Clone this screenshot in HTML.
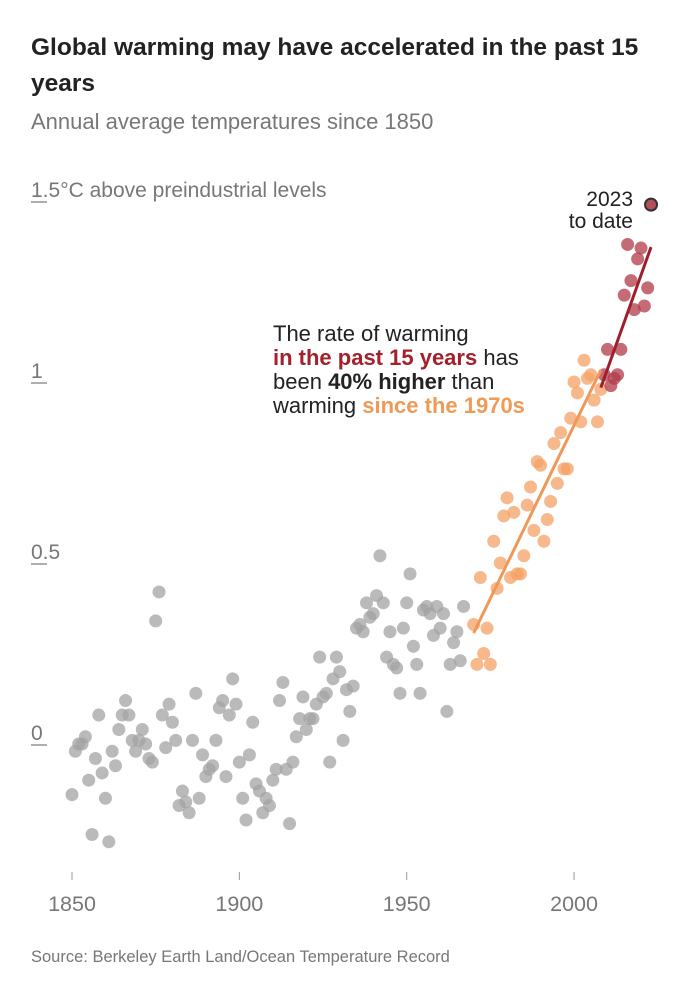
<!DOCTYPE html>
<html><head><meta charset="utf-8">
<style>
body{margin:0;background:#fff;font-family:"Liberation Sans",sans-serif;}
#wrap{position:relative;width:682px;height:1000px;overflow:hidden;}
h1{position:absolute;left:31px;top:30px;margin:0;font-size:24.5px;line-height:36px;color:#222;font-weight:bold;width:625px;}
.sub{position:absolute;left:31px;top:109px;font-size:22px;color:#777;}
.src{position:absolute;left:31px;top:948px;font-size:16.5px;color:#777;}
</style></head><body>
<div id="wrap">
<h1>Global warming may have accelerated in the past 15 years</h1>
<div class="sub">Annual average temperatures since 1850</div>
<svg id="chart" width="682" height="1000" style="position:absolute;left:0;top:0"></svg>
<div class="src">Source: Berkeley Earth Land/Ocean Temperature Record</div>
</div>
<script>
const startYear = 1850;
const grayValues = [-0.14,-0.02,0.00,0.00,0.02,-0.10,-0.25,-0.04,0.08,-0.08,-0.15,-0.27,-0.02,-0.06,0.04,0.08,0.12,0.08,0.01,-0.02,0.01,0.04,0.00,-0.04,-0.05,0.34,0.42,0.08,-0.01,0.11,0.06,0.01,-0.17,-0.13,-0.16,-0.19,0.01,0.14,-0.15,-0.03,-0.09,-0.07,-0.06,0.01,0.10,0.12,-0.09,0.08,0.18,0.11,-0.05,-0.15,-0.21,-0.03,
0.06,-0.11,-0.13,-0.19,-0.15,-0.17,-0.10,-0.07,0.12,0.17,-0.07,-0.22,-0.05,0.02,0.07,0.13,0.04,0.07,0.07,0.11,0.24,0.13,0.14,-0.05,0.18,0.24,0.20,0.01,0.15,0.09,0.16,0.32,0.33,0.31,0.39,0.35,0.36,0.41,0.52,0.39,0.24,0.31,0.22,0.21,0.14,0.32,0.39,0.47,0.27,0.22,0.14,0.37,0.38,0.36,0.30,0.38,0.32,0.36,0.09,0.22,0.28,0.31,0.23,0.38];
const orangeStart = 1970;
const orangeValues = [0.33,0.22,0.46,0.25,0.32,0.22,0.56,0.43,0.50,0.63,0.68,0.46,0.64,0.47,0.47,0.52,0.66,0.71,0.59,0.78,0.77,0.56,0.62,0.67,0.83,0.72,0.86,0.76,0.76,0.90,1.00,0.97,0.89,1.06,1.01,1.02,0.95,0.89,0.98];
const redStart = 2009;
const redValues = [1.02,1.09,0.99,1.01,1.02,1.09,1.24,1.38,1.28,1.20,1.34,1.37,1.21,1.26];
const latestYear = 2023;
const latestValue = 1.49;
const yTicks = [0,0.5,1,1.5];
const yTickLabels = ["0","0.5","1","1.5°C above preindustrial levels"];
const xTicks = [1850,1900,1950,2000];

const svg = document.getElementById('chart');
const NS = 'http://www.w3.org/2000/svg';
const xS = y => 72 + (y - 1850) * 3.347;
const yS = v => 744 - v * 362;
function mk(tag, attrs){const e=document.createElementNS(NS,tag);for(const k in attrs)e.setAttribute(k,attrs[k]);svg.appendChild(e);return e;}

yTicks.forEach((t,i)=>{
  const tx = mk('text',{x:31,y:yS(t)-4,'font-size':21,fill:'#777','font-family':'Liberation Sans, sans-serif'});
  tx.textContent = yTickLabels[i];
  
  
  const ln = mk('line',{x1:31,x2:47,y1:yS(t)+1,y2:yS(t)+1,stroke:'#777','stroke-width':1.2});
  
  
});
xTicks.forEach(t=>{
  const ln = mk('line',{x1:xS(t),x2:xS(t),y1:872,y2:880,stroke:'#999','stroke-width':1});
  
  
  const tx = mk('text',{x:xS(t),y:911,'font-size':21.5,fill:'#777','text-anchor':'middle','font-family':'Liberation Sans, sans-serif'});
  tx.textContent = t;
  
  
});
function dots(vals, start, color, name){
  vals.forEach((v,i)=>{
    const c = mk('circle',{cx:xS(start+i),cy:yS(v),r:6.5,fill:color,'fill-opacity':0.75});
    
    
  });
}
dots(grayValues, startYear, '#a3a3a3', 'point-historical');
dots(orangeValues, orangeStart, '#f4a264', 'point-since-1970');
dots(redValues, redStart, '#b23a48', 'point-past-15-years');
function trend(vals,start,color,name,x0,x1){
  const n=vals.length;let sx=0,sy=0,sxy=0,sxx=0;
  vals.forEach((v,i)=>{const x=start+i;sx+=x;sy+=v;sxy+=x*v;sxx+=x*x;});
  const b=(n*sxy-sx*sy)/(n*sxx-sx*sx),a=(sy-b*sx)/n;
  const ln = mk('line',{x1:xS(x0),y1:yS(a+b*x0),x2:xS(x1),y2:yS(a+b*x1),stroke:color,'stroke-width':3});
  
  
}
trend(orangeValues, orangeStart, '#f0985a', 'trend-line-since-1970', orangeStart, orangeStart+orangeValues.length-1);
trend(redValues, redStart, '#9e1f2b', 'trend-line-past-15-years', redStart-1, redStart+redValues.length);
const lp = mk('circle',{cx:xS(latestYear),cy:yS(latestValue),r:6,fill:'#b5505a',stroke:'#333','stroke-width':2});


[['2023',206],['to date',228]].forEach(([t,y])=>{
  const tx = mk('text',{x:633,y:y,'font-size':21,fill:'#222','text-anchor':'end','font-family':'Liberation Sans, sans-serif'});
  tx.textContent=t;
  
  
});
const ann = mk('text',{x:273,y:341,'font-size':22,fill:'#222','font-family':'Liberation Sans, sans-serif'});


ann.innerHTML = '<tspan x="273" y="341">The rate of warming</tspan>'+
 '<tspan x="273" y="365"><tspan font-weight="bold" fill="#a3202c">in the past 15 years</tspan> has</tspan>'+
 '<tspan x="273" y="389">been <tspan font-weight="bold">40% higher</tspan> than</tspan>'+
 '<tspan x="273" y="413">warming <tspan font-weight="bold" fill="#ef9a55">since the 1970s</tspan></tspan>';
</script>
</body></html>
